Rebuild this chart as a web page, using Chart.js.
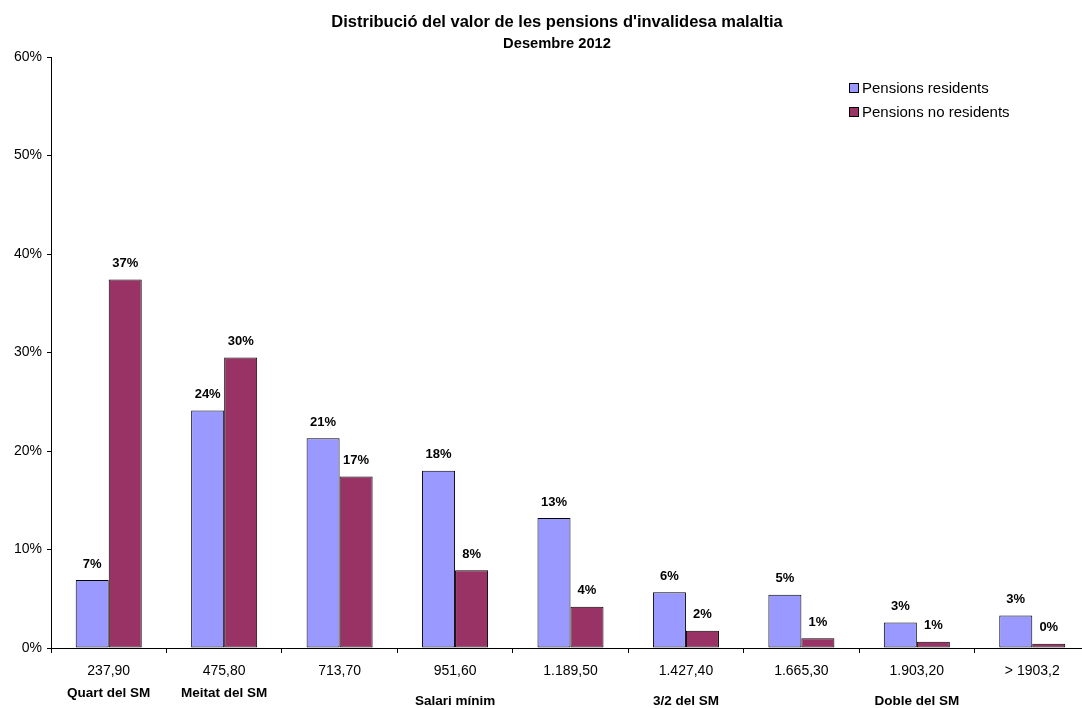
<!DOCTYPE html>
<html>
<head>
<meta charset="utf-8">
<script src="https://cdn.jsdelivr.net/npm/chart.js@4/dist/chart.umd.min.js"></script>
<style>
  html, body { margin: 0; padding: 0; background: #fff; overflow: hidden; }
  #wrap { width: 1095px; height: 708px; }
</style>
</head>
<body>
<div id="wrap"><canvas id="chart" width="1095" height="708"></canvas></div>
<script>
// ─── Data ───────────────────────────────────────────────────────────
const categories = ["237,90", "475,80", "713,70", "951,60", "1.189,50",
                    "1.427,40", "1.665,30", "1.903,20", "> 1903,2"];
const subLabels = ["Quart del SM", "Meitat del SM", "", "Salari mínim", "",
                   "3/2 del SM", "", "Doble del SM", ""];
const subLabelLevel = [0, 0, 0, 1, 0, 1, 0, 1, 0];

const residents = [6.9, 24.1, 21.3, 18.0, 13.2, 5.65, 5.4, 2.6, 3.3];
const nonResidents = [37.4, 29.5, 17.4, 7.9, 4.2, 1.76, 1.0, 0.64, 0.44];
const residentsLabels = ["7%", "24%", "21%", "18%", "13%", "6%", "5%", "3%", "3%"];
const nonResidentsLabels = ["37%", "30%", "17%", "8%", "4%", "2%", "1%", "1%", "0%"];

const yTicks = [0, 10, 20, 30, 40, 50, 60];

const FONT = "'Liberation Sans', Arial, sans-serif";

// ─── Overlay: titles, legend, value labels, second-row labels ──────
const overlay = {
  id: "overlay",
  afterDraw(chart) {
    const ctx = chart.ctx;
    const x = chart.scales.x;
    ctx.save();
    ctx.fillStyle = "#000";
    ctx.textAlign = "center";
    ctx.textBaseline = "middle";

    // titles
    ctx.font = `bold 16.5px ${FONT}`;
    ctx.fillText("Distribució del valor de les pensions d'invalidesa malaltia", 557, 22);
    ctx.font = `bold 14.7px ${FONT}`;
    ctx.fillText("Desembre 2012", 557, 44);

    // value labels
    ctx.font = `bold 13px ${FONT}`;
    const texts = [residentsLabels, nonResidentsLabels];
    chart.data.datasets.forEach((ds, di) => {
      chart.getDatasetMeta(di).data.forEach((bar, i) => {
        ctx.fillText(texts[di][i], bar.x, bar.y - 16);
      });
    });

    // second-row category labels
    ctx.font = `bold 13.5px ${FONT}`;
    subLabels.forEach((s, i) => {
      if (!s) return;
      const yy = subLabelLevel[i] ? 701 : 693;
      ctx.fillText(s, x.getPixelForValue(i), yy);
    });

    // legend
    ctx.textAlign = "left";
    ctx.font = `15px ${FONT}`;
    chart.data.datasets.forEach((ds, di) => {
      const ly = 88 + di * 24;
      ctx.fillStyle = ds.backgroundColor;
      ctx.fillRect(849, ly - 5, 10, 10);
      ctx.strokeStyle = "#000";
      ctx.lineWidth = 1;
      ctx.strokeRect(849.5, ly - 4.5, 9, 9);
      ctx.fillStyle = "#000";
      ctx.fillText(ds.label, 862, ly + 1);
    });
    ctx.restore();
  }
};

new Chart(document.getElementById("chart"), {
  type: "bar",
  data: {
    labels: categories,
    datasets: [
      {
        label: "Pensions residents",
        data: residents,
        backgroundColor: "#9999FF",
        borderColor: "#000",
        borderWidth: 1,
        borderSkipped: false,
        categoryPercentage: 0.572,
        barPercentage: 1.0,
      },
      {
        label: "Pensions no residents",
        data: nonResidents,
        backgroundColor: "#993366",
        borderColor: "#000",
        borderWidth: 1,
        borderSkipped: false,
        categoryPercentage: 0.572,
        barPercentage: 1.0,
      },
    ],
  },
  options: {
    responsive: false,
    animation: false,
    layout: { padding: { top: 57, right: 5, left: 0, bottom: 0 } },
    plugins: {
      legend: { display: false },
      title: { display: false },
      tooltip: { enabled: false },
    },
    scales: {
      x: {
        grid: { display: true, drawOnChartArea: false, drawTicks: true, tickLength: 5, color: "#000", offset: true },
        border: { color: "#000", width: 1 },
        ticks: { color: "#000", font: { family: FONT, size: 14 }, padding: 10, maxRotation: 0, autoSkip: false },
        afterFit: (s) => { s.height = 60; },
      },
      y: {
        min: 0,
        max: 60,
        afterBuildTicks: (s) => { s.ticks = yTicks.map((v) => ({ value: v })); },
        grid: { display: true, drawOnChartArea: false, drawTicks: true, tickLength: 4, color: "#000" },
        border: { color: "#000", width: 1 },
        ticks: {
          color: "#000",
          font: { family: FONT, size: 14 },
          padding: 5,
          callback: (v) => v + "%",
        },
        afterFit: (s) => { s.width = 51; },
      },
    },
  },
  plugins: [overlay],
});
</script>
</body>
</html>
